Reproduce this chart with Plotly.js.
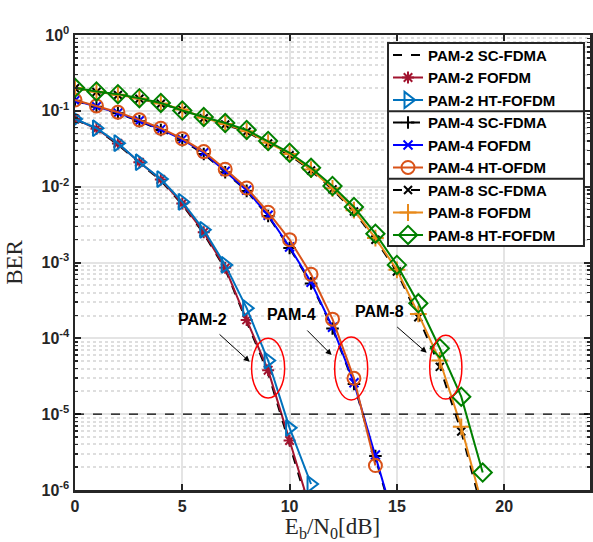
<!DOCTYPE html>
<html>
<head>
<meta charset="utf-8">
<script src="https://cdn.plot.ly/plotly-3.0.1.min.js"></script>
<style>html,body{margin:0;padding:0;background:#fff;}#chart{width:593px;height:542px;}</style>
</head>
<body>
<div id="chart"></div>
<script>
// ---- data ----
const ebn0_2 = [0,1,2,3,4,5,6,7,8,9,10,11];
const pam2_sc   = [0.077,0.057,0.036,0.0205,0.0121,0.0058,0.0024,0.00082,0.000165,0.000035,0.0000040,0.00000045];
const pam2_fo   = [0.078,0.058,0.037,0.021,0.0124,0.0060,0.0025,0.00085,0.000175,0.000038,0.0000045,0.00000052];
const pam2_ht   = [0.078,0.059,0.0375,0.021,0.0126,0.0063,0.0027,0.00093,0.00025,0.000051,0.0000066,0.0000012];

const ebn0_4 = [0,1,2,3,4,5,6,7,8,9,10,11,12,13,14,15];
const ebn0_4ht = [0,1,2,3,4,5,6,7,8,9,10,11,12,13,14];
const pam4_sc   = [0.136,0.113,0.093,0.073,0.056,0.041,0.027,0.0155,0.0088,0.0041,0.00155,0.00053,0.000135,0.000025,0.0000028,0.00000028];
const pam4_fo   = [0.137,0.114,0.094,0.074,0.057,0.042,0.028,0.016,0.0090,0.0042,0.0016,0.00055,0.00014,0.000026,0.0000029,0.0000003];
const pam4_ht   = [0.139,0.116,0.096,0.076,0.059,0.043,0.029,0.017,0.0096,0.0046,0.0020,0.00070,0.000179,0.0000297,0.0000021];

const ebn0_8 = [0,1,2,3,4,5,6,7,8,9,10,11,12,13,14,15,16,17,18,19];
const pam8_sc   = [0.199,0.177,0.162,0.144,0.124,0.103,0.080,0.066,0.053,0.037,0.026,0.0163,0.0092,0.0047,0.0020,0.00076,0.00019,0.000042,0.0000059,0.0000005];
const pam8_fo   = [0.200,0.178,0.163,0.145,0.125,0.104,0.081,0.067,0.054,0.038,0.027,0.0168,0.0095,0.0049,0.0021,0.00080,0.00021,0.000051,0.0000068,0.0000006];
const pam8_ht   = [0.201,0.180,0.166,0.147,0.127,0.101,0.083,0.069,0.056,0.040,0.028,0.0177,0.0102,0.0054,0.0024,0.00093,0.00029,0.000074,0.000017,0.0000017];

const xTickVals = [0,5,10,15,20];
const yTickVals = [1e-6,1e-5,1e-4,1e-3,1e-2,1e-1,1];
const yTickText = ['10<sup>-6</sup>','10<sup>-5</sup>','10<sup>-4</sup>','10<sup>-3</sup>','10<sup>-2</sup>','10<sup>-1</sup>','10<sup>0</sup>'];
const minorDigits = [2,3,4,5,6,7,8,9];
const decades = [-6,-5,-4,-3,-2,-1];
const yMinorVals = [];
decades.forEach(d => minorDigits.forEach(m => yMinorVals.push(m*Math.pow(10,d))));

const refLevel = 1e-5;
// annotation texts and ellipse regions (x range, BER range)
const groupLabels = ['PAM-2','PAM-4','PAM-8'];
const labelPos = [[5.95,-3.745],[10.1,-3.69],[14.2,-3.65]];
const arrowTip  = [[8.14,-4.31],[11.96,-4.22],[16.39,-4.19]];
const ellipses = [[8.23,9.77,1.0e-4,1.63e-5],[12.1,13.64,1.04e-4,1.54e-5],[16.53,18.03,1.1e-4,1.58e-5]];

// legend frame (paper coords) and group separators
const legBox = {x0:0.6078, x1:0.9883, y0:0.5363, y1:0.9824};
const legSeps = [0.8324, 0.6841];

// ---- styling ----
const FONT = 'Liberation Sans, Arial, Helvetica, sans-serif';
const SERIF = 'Liberation Serif, DejaVu Serif, serif';
const LW = 2;
function tr(name, x, y, color, symbol, dash, msize){
  const t = {
    type:'scatter', mode: symbol ? 'lines+markers' : 'lines', name:name, x:x, y:y,
    line:{color:color, width:LW, dash:dash||'solid'}
  };
  if (symbol) t.marker = {symbol:symbol, size:msize||10, color:color, line:{color:color, width:2}};
  return t;
}
const traces = [
  tr('PAM-2 SC-FDMA', ebn0_2, pam2_sc, '#000000', null, 'dash'),
  tr('PAM-2 FOFDM', ebn0_2, pam2_fo, '#A2142F', 'asterisk-open', null, 10),
  tr('PAM-2 HT-FOFDM', ebn0_2, pam2_ht, '#0072BD', 'triangle-right-open', null, 14),
  tr('PAM-4 SC-FDMA', ebn0_4, pam4_sc, '#000000', 'cross-thin', 'dash', 9),
  tr('PAM-4 FOFDM', ebn0_4, pam4_fo, '#0000FF', 'x-thin', null, 9),
  tr('PAM-4 HT-OFDM', ebn0_4ht, pam4_ht, '#D95319', 'circle-open', null, 13),
  tr('PAM-8 SC-FDMA', ebn0_8, pam8_sc, '#000000', 'x-thin', 'dash', 8),
  tr('PAM-8 FOFDM', ebn0_8, pam8_fo, '#E8891A', 'cross-thin', null, 12),
  tr('PAM-8 HT-FOFDM', ebn0_8, pam8_ht, '#008000', 'diamond-open', null, 14)
];

const annotations = [];
groupLabels.forEach((t,i) => {
  annotations.push({xref:'x', yref:'y', x:arrowTip[i][0], y:arrowTip[i][1], axref:'x', ayref:'y',
    ax:labelPos[i][0], ay:labelPos[i][1], text:t, showarrow:true, arrowhead:2, arrowsize:1.2, arrowwidth:1,
    arrowcolor:'#000', startstandoff:8, font:{family:FONT, size:16, color:'#000', weight:'bold'}});
});

const shapes = [
  {type:'line', xref:'paper', yref:'y', x0:0, x1:1, y0:refLevel, y1:refLevel, line:{color:'#000', width:1.3, dash:'dash'}},
  {type:'rect', xref:'paper', yref:'paper', x0:legBox.x0, x1:legBox.x1, y0:legBox.y0, y1:legBox.y1, layer:'above',
    fillcolor:'#ffffff', line:{color:'#262626', width:2}}
];
legSeps.forEach(s => shapes.push({type:'line', xref:'paper', yref:'paper', x0:legBox.x0, x1:legBox.x1, y0:s, y1:s, layer:'above', line:{color:'#262626', width:2}}));
ellipses.forEach(e => shapes.push({type:'circle', xref:'x', yref:'y', x0:e[0], x1:e[1], y0:e[3], y1:e[2], line:{color:'#FF0000', width:1.5}}));

const layout = {
  width:593, height:542,
  margin:{l:75, r:3, t:35, b:52},
  paper_bgcolor:'#ffffff', plot_bgcolor:'#ffffff',
  showlegend:true,
  legend:{x:0.6078, xanchor:'left', y:0.9918, yanchor:'top', bgcolor:'rgba(0,0,0,0)', borderwidth:0,
    font:{family:FONT, size:15, color:'#000', weight:'bold'}, tracegroupgap:0, itemwidth:30},
  xaxis:{
    range:[0,24], tickvals:xTickVals, ticks:'inside', ticklen:6, tickwidth:2, tickcolor:'#262626',
    showline:true, linecolor:'#262626', linewidth:2.5, mirror:'ticks', zeroline:false,
    showgrid:true, gridcolor:'#e4e4e4', gridwidth:2,
    tickfont:{family:FONT, size:16, color:'#262626', weight:'bold'},
    title:{text:'E<sub>b</sub>/N<sub>0</sub>[dB]', font:{family:SERIF, size:23, color:'#262626'}, standoff:6}
  },
  yaxis:{
    type:'log', range:[-6,0], tickvals:yTickVals, ticktext:yTickText, ticks:'inside', ticklen:6, tickwidth:2, tickcolor:'#262626',
    showline:true, linecolor:'#262626', linewidth:2.5, mirror:'ticks', zeroline:false,
    showgrid:true, gridcolor:'#e4e4e4', gridwidth:2,
    minor:{tickvals:yMinorVals, ticks:'inside', ticklen:3, tickwidth:1.5, tickcolor:'#262626', showgrid:true, gridcolor:'#dedede', gridwidth:2, griddash:'dot'},
    tickfont:{family:FONT, size:16, color:'#262626', weight:'bold'},
    title:{text:'BER', font:{family:SERIF, size:23, color:'#262626'}, standoff:13}
  },
  annotations: annotations,
  shapes: shapes
};

Plotly.newPlot('chart', traces, layout, {displayModeBar:false, staticPlot:true});
</script>
</body>
</html>
